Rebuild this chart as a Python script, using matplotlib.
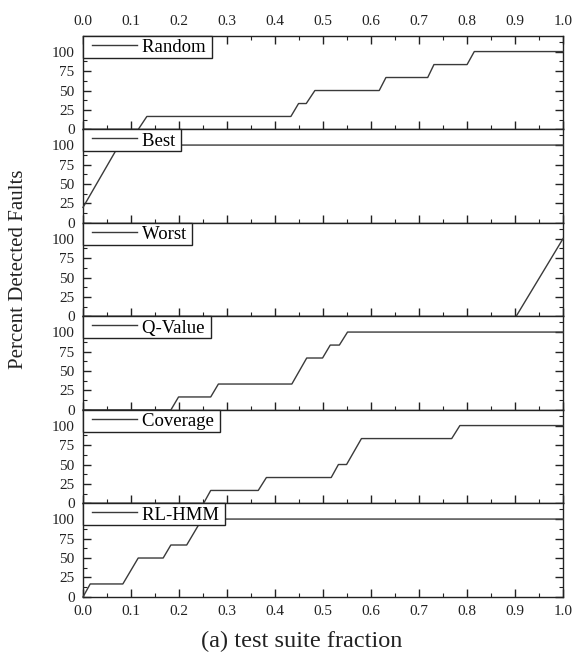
import matplotlib
matplotlib.use("Agg")
import matplotlib.pyplot as plt
from matplotlib.ticker import MultipleLocator
from matplotlib.legend_handler import HandlerLine2D

plt.rcParams['font.family'] = ['Liberation Serif', 'DejaVu Serif']

# strategies, top to bottom
names = ["Random", "Best", "Worst", "Q-Value", "Coverage", "RL-HMM"]

frac_random = [0, 0.115, 0.133, 0.433, 0.449, 0.465, 0.483, 0.617, 0.631, 0.718, 0.731, 0.800, 0.815, 1.0]
pct_random = [0, 0, 16.7, 16.7, 33.3, 33.3, 50, 50, 66.7, 66.7, 83.3, 83.3, 100, 100]

frac_best = [0, 0.075, 1.0]
pct_best = [20, 100, 100]

frac_worst = [0, 0.902, 1.0]
pct_worst = [0, 0, 100]

frac_qvalue = [0, 0.183, 0.199, 0.266, 0.282, 0.435, 0.466, 0.499, 0.515, 0.534, 0.551, 1.0]
pct_qvalue = [0, 0, 16.7, 16.7, 33.3, 33.3, 66.7, 66.7, 83.3, 83.3, 100, 100]

frac_coverage = [0, 0.251, 0.266, 0.365, 0.382, 0.517, 0.532, 0.549, 0.580, 0.768, 0.785, 1.0]
pct_coverage = [0, 0, 16.7, 16.7, 33.3, 33.3, 50, 50, 83.3, 83.3, 100, 100]

frac_rlhmm = [0, 0.015, 0.083, 0.115, 0.167, 0.183, 0.216, 0.248, 1.0]
pct_rlhmm = [0, 16.7, 16.7, 50, 50, 66.7, 66.7, 100, 100]

xs = [frac_random, frac_best, frac_worst, frac_qvalue, frac_coverage, frac_rlhmm]
ys = [pct_random, pct_best, pct_worst, pct_qvalue, pct_coverage, pct_rlhmm]

yticks = [0, 25, 50, 75, 100]
xticks = [0.0, 0.1, 0.2, 0.3, 0.4, 0.5, 0.6, 0.7, 0.8, 0.9, 1.0]

fig, axes = plt.subplots(6, 1, figsize=(5.74, 6.53), dpi=100, sharex=True)
fig.subplots_adjust(left=0.1446, right=0.981, top=0.9449, bottom=0.0858, hspace=0)

for i, ax in enumerate(axes):
    line, = ax.plot(xs[i], ys[i], color='#3a3a3a', lw=1.0, clip_on=False, zorder=3)
    ax.set_xlim(0, 1)
    ax.set_ylim(0, 120)
    ax.set_yticks(yticks)
    ax.yaxis.set_minor_locator(MultipleLocator(12.5))
    ax.set_xticks(xticks)
    ax.xaxis.set_minor_locator(MultipleLocator(0.05))
    for s in ax.spines.values():
        s.set_color('#222222')
        s.set_linewidth(1.0)
    ax.tick_params(which='both', direction='in', right=True, top=(i == 0),
                   labeltop=(i == 0), labelbottom=(i == 5),
                   labelsize=11, pad=6, colors='#222222')
    ax.tick_params(which='major', length=6, width=1.0)
    ax.tick_params(which='minor', length=3, width=0.8)
    # legend box sits in the top-left corner of each panel
    leg = ax.legend([line], [names[i] + ' '], loc='upper left', bbox_to_anchor=(0, 1),
                    borderaxespad=0, fontsize=13.5, frameon=True, fancybox=False,
                    framealpha=1, edgecolor='#222222', borderpad=0.06,
                    handlelength=2.8, handleheight=1.1, handletextpad=0.3,
                    labelspacing=0, handler_map={line: HandlerLine2D(xpad=0.4)})
    leg.get_frame().set_linewidth(1.0)
    leg.set_zorder(5)

axes[0].set_xticklabels(["%.1f" % t for t in xticks])
axes[-1].set_xticklabels(["%.1f" % t for t in xticks])

fig.text(0.032, 0.587, 'Percent Detected Faults', rotation=90, fontsize=15,
         ha='center', va='center', color='#222222')
fig.text(0.526, 0.018, '(a) test suite fraction', fontsize=17.5,
         ha='center', va='center', color='#222222')

fig.savefig('out.png', dpi=100)
